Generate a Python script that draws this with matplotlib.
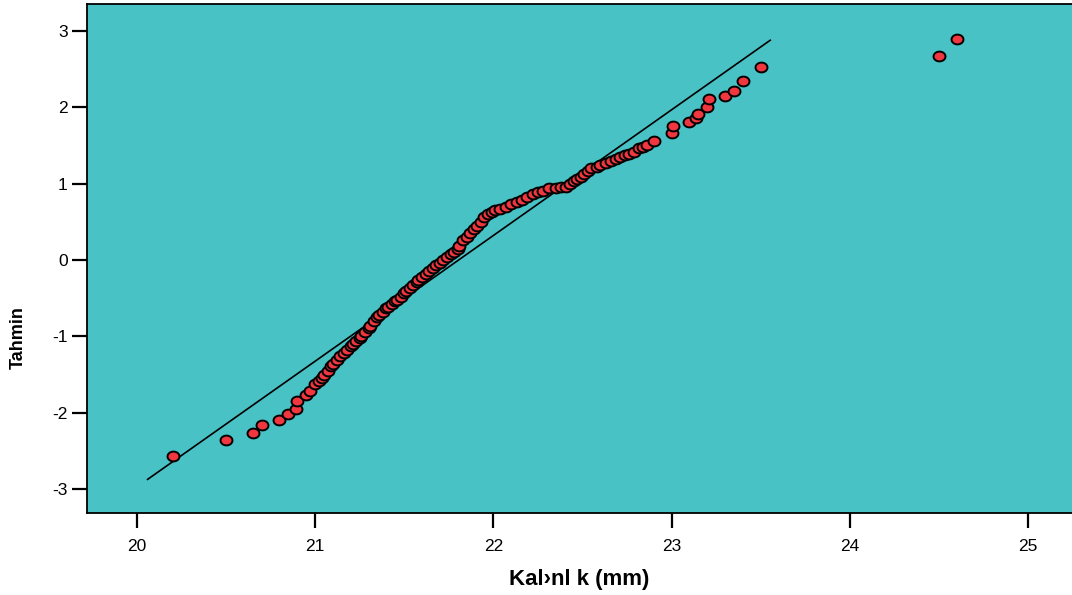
import numpy as np
import matplotlib
matplotlib.use("Agg")
import matplotlib.pyplot as plt
from matplotlib.path import Path

# Q-Q plot of thickness values (observed value vs expected normal value)
observed = [20.20, 20.50, 20.65, 20.70, 20.80, 20.85, 20.89, 20.90, 20.95, 20.97,
            21.00, 21.02, 21.04, 21.05, 21.07, 21.09, 21.10, 21.12, 21.14, 21.16,
            21.18, 21.20, 21.21, 21.23, 21.25, 21.26, 21.28, 21.30, 21.31, 21.33,
            21.35, 21.36, 21.38, 21.40, 21.41, 21.43, 21.45, 21.46, 21.48, 21.50,
            21.51, 21.53, 21.55, 21.57, 21.58, 21.60, 21.62, 21.64, 21.66, 21.68,
            21.70, 21.72, 21.74, 21.76, 21.78, 21.80, 21.81, 21.83, 21.85, 21.87,
            21.89, 21.91, 21.93, 21.95, 21.97, 21.99, 22.01, 22.04, 22.07, 22.10,
            22.13, 22.16, 22.19, 22.22, 22.25, 22.28, 22.31, 22.35, 22.38, 22.41,
            22.43, 22.45, 22.47, 22.49, 22.51, 22.53, 22.55, 22.58, 22.60, 22.63,
            22.66, 22.69, 22.71, 22.74, 22.76, 22.79, 22.82, 22.84, 22.86, 22.90,
            23.00, 23.01, 23.10, 23.14, 23.15, 23.20, 23.21, 23.30, 23.35, 23.40,
            23.50, 24.50, 24.60]
expected = [-2.57, -2.36, -2.26, -2.16, -2.09, -2.02, -1.95, -1.85, -1.77, -1.71,
            -1.62, -1.58, -1.54, -1.51, -1.45, -1.39, -1.36, -1.31, -1.26, -1.22,
            -1.18, -1.13, -1.10, -1.06, -1.02, -0.99, -0.94, -0.89, -0.86, -0.80,
            -0.75, -0.72, -0.68, -0.63, -0.61, -0.57, -0.54, -0.52, -0.48, -0.43,
            -0.40, -0.36, -0.33, -0.29, -0.26, -0.22, -0.18, -0.15, -0.11, -0.07,
            -0.04, 0.00, 0.04, 0.08, 0.11, 0.15, 0.19, 0.26, 0.30, 0.36,
            0.40, 0.45, 0.50, 0.56, 0.60, 0.63, 0.65, 0.67, 0.70, 0.73,
            0.76, 0.79, 0.83, 0.86, 0.89, 0.90, 0.94, 0.94, 0.95, 0.96,
            1.00, 1.03, 1.06, 1.08, 1.13, 1.17, 1.20, 1.22, 1.24, 1.27,
            1.30, 1.32, 1.35, 1.37, 1.39, 1.41, 1.46, 1.48, 1.50, 1.56,
            1.66, 1.76, 1.81, 1.86, 1.91, 2.00, 2.11, 2.15, 2.21, 2.34,
            2.52, 2.67, 2.89]

# reference line: x = mean + sd * z
line_mean = 21.805
line_sd = 0.608
line_z = [-2.87, 2.876]

x_ticks = [20, 21, 22, 23, 24, 25]
y_ticks = [-3, -2, -1, 0, 1, 2, 3]

bg = "#49C2C6"
dot = "#F0363F"

plt.rcParams["font.family"] = ["Liberation Sans", "DejaVu Sans"]
plt.rcParams["axes.unicode_minus"] = False

fig = plt.figure(figsize=(10.72, 5.95), dpi=100)
ax = fig.add_axes([87 / 1072, 82 / 595, 1 - 87 / 1072, 509 / 595])
ax.set_facecolor(bg)

# slightly flattened circle as the marker
t = np.linspace(0, 2 * np.pi, 60)
ellipse = Path(np.column_stack([np.cos(t), 0.82 * np.sin(t)]), closed=True)

lx = [line_mean + line_sd * z for z in line_z]
ax.plot(lx, line_z, color="black", lw=1.2, zorder=2)
ax.plot(observed, expected, linestyle="none", marker=ellipse, ms=8.6,
        mfc=dot, mec="black", mew=1.4, zorder=3)

ax.set_xlim(19.72, 25.247)
ax.set_ylim(-3.31, 3.35)
ax.set_xticks(x_ticks)
ax.set_yticks(y_ticks)

for side in ("left", "top", "bottom"):
    ax.spines[side].set_linewidth(1.3)
ax.spines["right"].set_visible(False)
ax.tick_params(axis="x", length=10.5, width=1.6, pad=8, labelsize=12.5)
ax.tick_params(axis="y", length=11, width=1.6, pad=3, labelsize=12.5)

ax.set_xlabel("Kal\u203anl k (mm)", fontsize=16, fontweight="bold", labelpad=11)

# vertical axis title
fig.text(18 / 1072, 1 - 338 / 595, "Tahmin", rotation=90, fontsize=13,
         fontweight="bold", ha="center", va="center")

fig.savefig("out.png", dpi=100, facecolor="white")
